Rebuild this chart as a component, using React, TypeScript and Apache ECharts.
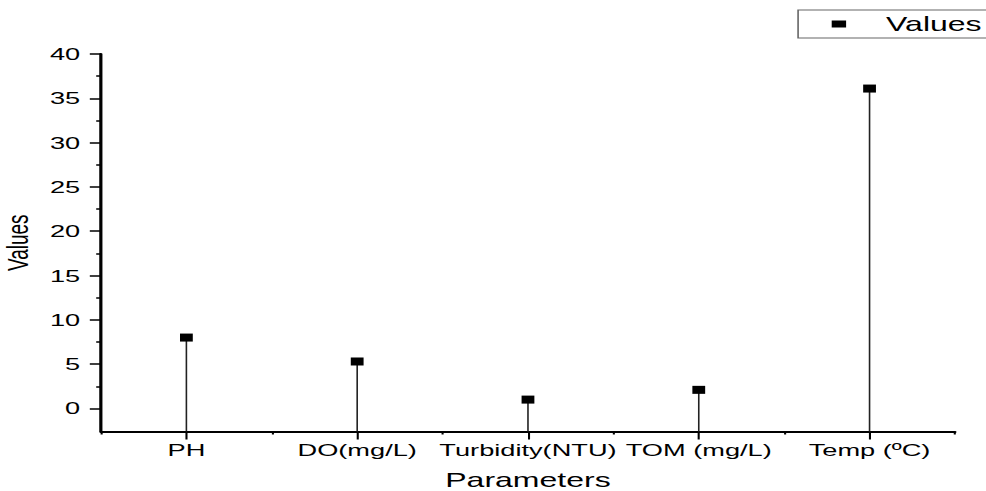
import React, { useEffect, useRef } from "react";
import * as echarts from "echarts";

const categories = ["PH", "DO(mg/L)", "Turbidity(NTU)", "TOM (mg/L)", "Temp (ºC)"];
const values = [8.0, 5.3, 1.0, 2.1, 36.1];
const yMajorTicks = [0, 5, 10, 15, 20, 25, 30, 35, 40];
const yMinorTicks = [2.5, 7.5, 12.5, 17.5, 22.5, 27.5, 32.5, 37.5];
const seriesName = "Values";
const xTitle = "Parameters";
const yTitle = "Values";

const Y_MIN = -2.6;
const Y_MAX = 40;
const BASE_W = 616;
const FULL_W = 986;
const H = 491;
const FONT = "'Liberation Sans', Arial, sans-serif";

export default function App() {
  const ref = useRef<HTMLDivElement>(null);
  useEffect(() => {
    if (!ref.current) return;
    const chart = echarts.init(ref.current, undefined, { renderer: "svg" });
    const axisLine = { show: true, onZero: false, lineStyle: { color: "#000", width: 2 } };
    chart.setOption({
      animation: false,
      backgroundColor: "#fff",
      textStyle: { fontFamily: FONT, color: "#000" },
      grid: { left: 63.1, right: 19.4, top: 54, bottom: 59.5, containLabel: false, outerBoundsMode: "none" },
      legend: {
        data: [seriesName],
        left: 498.6,
        top: 10,
        orient: "horizontal",
        padding: [4, 10, 4, 21],
        borderColor: "#666",
        borderWidth: 1,
        icon: "rect",
        itemWidth: 9,
        itemHeight: 7,
        itemStyle: { color: "#000", opacity: 1 },
        textStyle: { fontSize: 20, color: "#000", fontFamily: FONT, padding: [0, 0, 0, 20] },
      },
      xAxis: [
        {
          type: "category",
          data: categories,
          boundaryGap: true,
          position: "bottom",
          axisLine: axisLine,
          axisTick: { show: true, alignWithLabel: true, interval: 0, length: 8, lineStyle: { color: "#000", width: 1.3 } },
          axisLabel: { interval: 0, fontSize: 17, color: "#000", margin: 10, fontFamily: FONT },
          splitLine: { show: false },
          name: xTitle,
          nameLocation: "middle",
          nameGap: 39,
          nameTextStyle: { fontSize: 20, color: "#000", fontFamily: FONT },
        },
        {
          type: "category",
          data: categories,
          boundaryGap: true,
          position: "bottom",
          offset: 0,
          axisLine: { show: false, onZero: false },
          axisTick: { show: true, alignWithLabel: false, interval: 0, length: 3, lineStyle: { color: "#000", width: 1.3 } },
          axisLabel: { show: false },
          splitLine: { show: false },
        },
      ],
      yAxis: [
        {
          type: "value",
          min: Y_MIN,
          max: Y_MAX,
          position: "left",
          axisLine: axisLine,
          axisTick: { show: true, customValues: yMajorTicks, length: 7, lineStyle: { color: "#000", width: 1.5 } },
          axisLabel: { customValues: yMajorTicks, fontSize: 17, color: "#000", margin: 13, fontFamily: FONT },
          splitLine: { show: false },
          name: yTitle,
          nameLocation: "middle",
          nameGap: 37,
          nameTextStyle: { fontSize: 19, color: "#000", fontFamily: FONT },
        },
        {
          type: "value",
          min: Y_MIN,
          max: Y_MAX,
          position: "left",
          offset: 0,
          axisLine: { show: false, onZero: false },
          axisTick: { show: true, customValues: yMinorTicks, length: 3, lineStyle: { color: "#000", width: 1.5 } },
          axisLabel: { show: false },
          splitLine: { show: false },
        },
      ],
      series: [
        {
          type: "custom",
          name: "stems",
          xAxisIndex: 0,
          yAxisIndex: 0,
          silent: true,
          z: 1,
          data: values.map((v, i) => [i, v]),
          renderItem: (_params: any, api: any) => {
            const x = api.value(0);
            const v = api.value(1);
            const p1 = api.coord([x, Y_MIN]);
            const p2 = api.coord([x, v]);
            return {
              type: "line",
              shape: { x1: p1[0], y1: p1[1], x2: p2[0], y2: p2[1] },
              style: { stroke: "#222", lineWidth: 1 },
            };
          },
        },
        {
          type: "scatter",
          name: seriesName,
          xAxisIndex: 0,
          yAxisIndex: 0,
          z: 3,
          symbol: "rect",
          symbolSize: [8, 8],
          itemStyle: { color: "#000", opacity: 1 },
          data: values,
        },
      ],
    });
    return () => chart.dispose();
  }, []);
  return (
    <div
      style={{
        position: "absolute",
        left: 0,
        top: 0,
        width: FULL_W,
        height: H,
        overflow: "hidden",
        background: "#fff",
      }}
    >
      <div
        ref={ref}
        style={{
          width: BASE_W,
          height: H,
          transform: `scale(${FULL_W / BASE_W}, 1)`,
          transformOrigin: "0 0",
        }}
      />
    </div>
  );
}
